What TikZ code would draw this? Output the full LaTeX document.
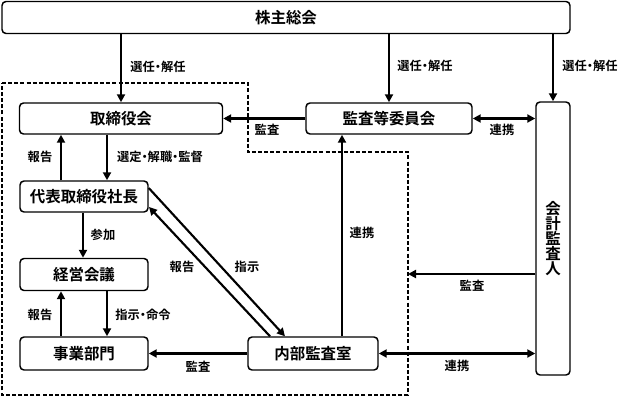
\documentclass[tikz,border=0pt]{standalone}
\usepackage{fontspec}
\setmainfont{Noto Sans CJK JP}[BoldFont={* Bold}, RawFeature=+palt]
\usetikzlibrary{arrows.meta}
\tikzset{
  box/.style={draw, line width=1.1pt, rounded corners=3pt, font=\bfseries\fontsize{11.6}{12}\selectfont, inner sep=0pt},
  conn/.style={line width=1.6pt, -{Triangle[length=6pt,width=6pt]}},
  dconn/.style={line width=1.6pt, {Triangle[length=6pt,width=6pt]}-{Triangle[length=6pt,width=6pt]}},
  lbl/.style={font=\bfseries\fontsize{9.2}{10}\selectfont, inner sep=0pt},
  frame/.style={dashed, dash pattern=on 3pt off 1.6pt, line width=0.8pt}
}
\begin{document}
\begin{tikzpicture}[x=0.75pt,y=-0.75pt]
\useasboundingbox (0,0) rectangle (618,396);
% boxes
\node[box, minimum width=568*0.75pt, minimum height=32*0.75pt] (kabu) at (286,17.5) {株主総会};
\node[box, minimum width=203*0.75pt, minimum height=31*0.75pt] (tori) at (121,118.5) {取締役会};
\node[box, minimum width=166*0.75pt, minimum height=31*0.75pt] (kansa) at (389,118.5) {監査等委員会};
\node[box, minimum width=34*0.75pt, minimum height=273*0.75pt] (kaikei) at (553,238.5) {};
\node[font=\bfseries\fontsize{11.6}{11.25}\selectfont, align=center, inner sep=0pt] (kaikeitxt) at (kaikei.center) {会\\計\\監\\査\\人};
\node[box, minimum width=128*0.75pt, minimum height=31*0.75pt] (daihyo) at (84,196.5) {代表取締役社長};
\node[box, minimum width=128*0.75pt, minimum height=32*0.75pt] (keiei) at (84,274.5) {経営会議};
\node[box, minimum width=128*0.75pt, minimum height=33*0.75pt] (jigyo) at (84,353.5) {事業部門};
\node[box, minimum width=130*0.75pt, minimum height=33*0.75pt] (naibu) at (313,353.5) {内部監査室};
% dashed frame
\draw[frame] (2,83) -- (248,83) -- (248,152) -- (408,152) -- (408,395) -- (2,395) -- cycle;
\coordinate (fr) at (408,274);
% top arrows
\draw[conn] (tori.north |- kabu.south) -- (tori.north);
\node[lbl] (l1) at (158,67) {選任・解任};
\draw[conn] (kansa.north |- kabu.south) -- (kansa.north);
\node[lbl] (l2) at (425,66) {選任・解任};
\draw[conn] (kaikei.north |- kabu.south) -- (kaikei.north);
\node[lbl] (l3) at (590,66) {選任・解任};
% kansa row
\draw[conn] (kansa.west) -- (tori.east);
\node[lbl] (l4) at (267,130) {監査};
\draw[dconn] (kansa.east) -- (kansa.east -| kaikei.west);
\node[lbl] (l5) at (502,130) {連携};
% tori - daihyo
\draw[conn] (tori.south -| 107,0) -- (daihyo.north -| 107,0);
\draw[conn] (daihyo.north -| 61,0) -- (tori.south -| 61,0);
\node[lbl] (l6) at (40,157) {報告};
\node[lbl] (l7) at (160,157) {選定・解職・監督};
% daihyo - keiei
\draw[conn] (daihyo.south -| 83,0) -- (keiei.north -| 83,0);
\node[lbl] (l8) at (103,235) {参加};
% keiei - jigyo
\draw[conn] (keiei.south -| 107,0) -- (jigyo.north -| 107,0);
\draw[conn] (jigyo.north -| 61,0) -- (keiei.south -| 61,0);
\node[lbl] (l9) at (40,315) {報告};
\node[lbl] (l10) at (143,315) {指示・命令};
% naibu - jigyo
\draw[conn] (naibu.west) -- (jigyo.east);
\node[lbl] (l11) at (198,367) {監査};
% naibu - kansa
\draw[conn] (naibu.north -| 342,0) -- (kansa.south -| 342,0);
\node[lbl] (l12) at (362,233) {連携};
% kaikei - frame
\draw[conn] (kaikei.west |- fr) -- (fr);
\node[lbl] (l13) at (472,286) {監査};
% naibu - kaikei
\draw[dconn] (naibu.east) -- (naibu.east -| kaikei.west);
\node[lbl] (l14) at (457,366) {連携};
% diagonals
\draw[conn] (daihyo.east |- 0,188) -- (naibu.north -| 285,0);
\draw[conn] (naibu.north -| 270,0) -- (149,207);
\node[lbl] (l15) at (247,267) {指示};
\node[lbl] (l16) at (182,267) {報告};
\end{tikzpicture}
\end{document}
